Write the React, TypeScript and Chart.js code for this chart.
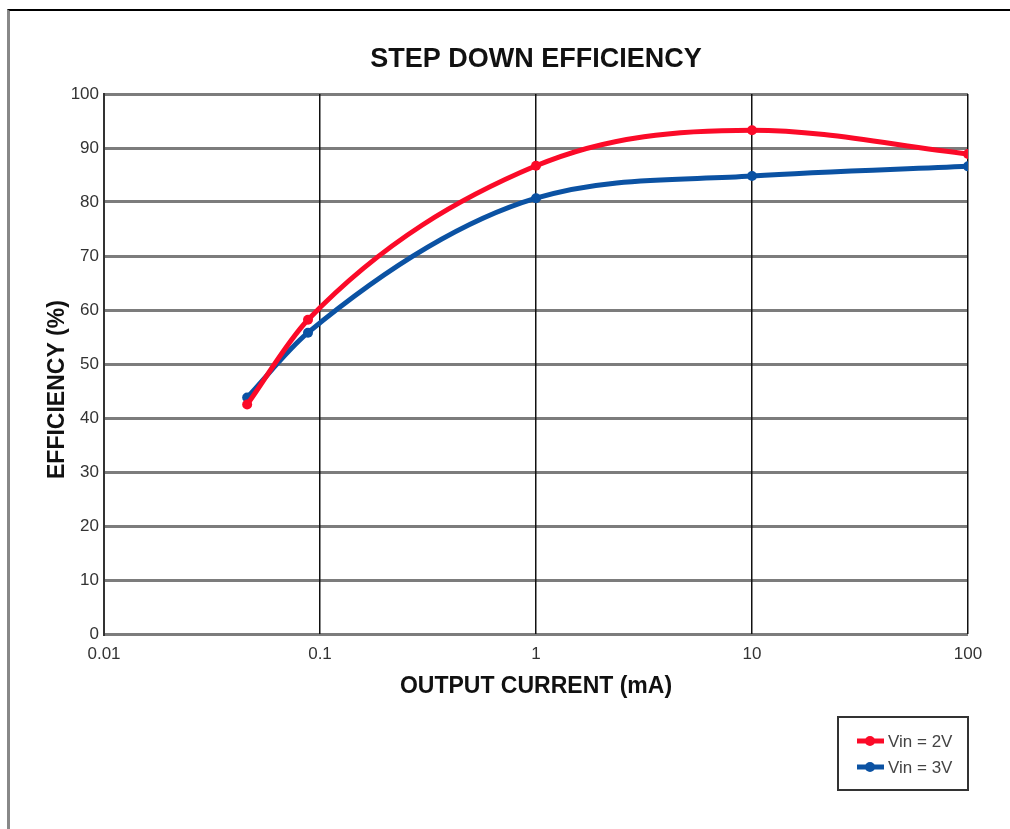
import React, { useEffect, useRef } from "react";
import { Chart, registerables } from "chart.js";

Chart.register(...registerables);

const currents = [0.046, 0.088, 1, 10, 100];
const vin2V = [42.5, 58.2, 86.7, 93.3, 88.9];
const vin3V = [43.8, 55.8, 80.7, 84.8, 86.6];
const xTickValues = [0.01, 0.1, 1, 10, 100];
const seriesLabels = ["Vin = 2V", "Vin = 3V"];
const seriesColors = ["#fb0a28", "#0b52a3"];
const chartTitle = "STEP DOWN EFFICIENCY";

const FONT = "'Liberation Sans', Arial, Helvetica, sans-serif";

const titlePlugin = {
  id: "centeredTitle",
  afterDraw(chart: any) {
    const ctx = chart.ctx;
    const a = chart.chartArea;
    ctx.save();
    ctx.fillStyle = "#111";
    ctx.font = `bold 27px ${FONT}`;
    ctx.textAlign = "center";
    ctx.textBaseline = "middle";
    ctx.fillText(chartTitle, (a.left + a.right) / 2, 60);
    ctx.restore();
  },
};

const legendBoxPlugin = {
  id: "legendBox",
  afterDraw(chart: any) {
    const ctx = chart.ctx;
    const x0 = 838, y0 = 717, w = 130, h = 73;
    ctx.save();
    ctx.strokeStyle = "#333";
    ctx.lineWidth = 2;
    ctx.strokeRect(x0, y0, w, h);
    chart.data.datasets.forEach((ds: any, i: number) => {
      const y = 741 + i * 26;
      ctx.strokeStyle = ds.borderColor;
      ctx.lineWidth = 5;
      ctx.beginPath();
      ctx.moveTo(857, y);
      ctx.lineTo(884, y);
      ctx.stroke();
      ctx.fillStyle = ds.borderColor;
      ctx.beginPath();
      ctx.arc(870, y, 5, 0, Math.PI * 2);
      ctx.fill();
      ctx.fillStyle = "#444";
      ctx.font = `17px ${FONT}`;
      ctx.textBaseline = "middle";
      ctx.textAlign = "left";
      ctx.fillText(ds.label, 888, y + 1);
    });
    ctx.restore();
  },
};

export default function App() {
  const ref = useRef<HTMLCanvasElement | null>(null);

  useEffect(() => {
    if (!ref.current) return;
    const mk = (i: number, data: number[]) => ({
      label: seriesLabels[i],
      data: currents.map((x, k) => ({ x, y: data[k] })),
      borderColor: seriesColors[i],
      backgroundColor: seriesColors[i],
      borderWidth: 5,
      pointRadius: 5,
      pointHoverRadius: 5,
      pointBorderWidth: 0,
      cubicInterpolationMode: "monotone" as const,
      fill: false,
    });
    const chart = new Chart(ref.current, {
      type: "line",
      data: { datasets: [mk(0, vin2V), mk(1, vin3V)] },
      plugins: [titlePlugin, legendBoxPlugin],
      options: {
        animation: false,
        responsive: false,
        devicePixelRatio: 1,
        layout: { padding: { left: 0, right: 42, top: 94, bottom: 115 } },
        plugins: {
          legend: { display: false },
          tooltip: { enabled: false },
          title: { display: false },
        },
        scales: {
          y: {
            type: "linear",
            min: 0,
            max: 100,
            afterFit(scale: any) {
              scale.width = 104;
            },
            ticks: {
              stepSize: 10,
              padding: 5,
              color: "#333",
              font: { family: FONT, size: 17 },
            },
            grid: { color: "#7c7c7c", lineWidth: 3, drawTicks: false },
            border: { display: true, color: "#333", width: 2 },
            title: {
              display: true,
              text: "EFFICIENCY (%)        ",
              color: "#111",
              font: { family: FONT, size: 23, weight: "bold" },
              padding: { top: 44, bottom: 0 },
            },
          },
          x: {
            type: "logarithmic",
            min: 0.01,
            max: 100,
            afterFit(scale: any) {
              scale.height = 80;
            },
            afterBuildTicks(scale: any) {
              scale.ticks = xTickValues.map((v) => ({ value: v }));
            },
            ticks: {
              padding: 10,
              color: "#333",
              font: { family: FONT, size: 17 },
              autoSkip: false,
              maxRotation: 0,
              callback: (v: any) => String(v),
            },
            grid: { color: "#111", lineWidth: 1.5, drawTicks: false },
            border: { display: false },
            title: {
              display: true,
              text: "OUTPUT CURRENT (mA)",
              color: "#111",
              font: { family: FONT, size: 23, weight: "bold" },
              padding: { top: 0, bottom: 14 },
            },
          },
        },
      },
    });
    return () => chart.destroy();
  }, []);

  return (
    <>
      <div
        style={{
          position: "fixed",
          left: 7,
          top: 9,
          width: 1003,
          height: 820,
          borderTop: "2px solid #000",
          borderLeft: "3px solid #888",
          boxSizing: "border-box",
        }}
      />
      <canvas
        ref={ref}
        width={1010}
        height={829}
        style={{ position: "fixed", left: 0, top: 0, width: 1010, height: 829 }}
      />
    </>
  );
}
